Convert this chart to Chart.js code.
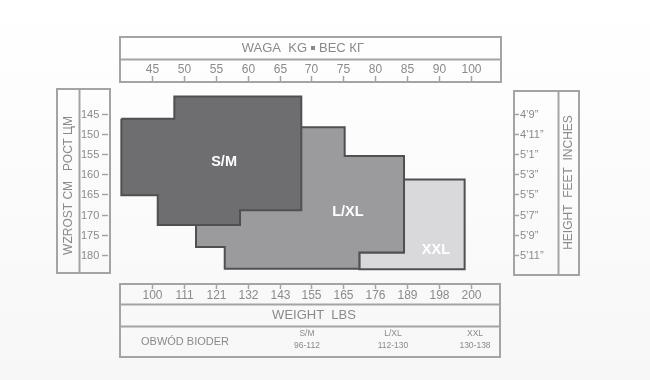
<!DOCTYPE html>
<html>
<head>
<meta charset="utf-8">
<script src="https://cdn.jsdelivr.net/npm/chart.js@4/dist/chart.umd.min.js"></script>
<style>
  html, body { margin: 0; padding: 0; background: #ffffff; }
  #wrap { width: 650px; height: 380px; position: relative; }
</style>
</head>
<body>
<div id="wrap"><canvas id="c" width="650" height="380"></canvas></div>
<script>
// ---- DATA (x = weight position on kg scale, y = height in cm) ----
const kgTickLabels = ['45','50','55','60','65','70','75','80','85','90','100'];
const lbsTickLabels = ['100','111','121','132','143','155','165','176','189','198','200'];
const cmTickLabels = ['145','150','155','160','165','170','175','180'];
const inchTickLabels = ['4’9”','4’11”','5’1”','5’3”','5’5”','5’7”','5’9”','5’11”'];

const sizeNames = ['S/M', 'L/XL', 'XXL'];
const hipRanges = ['96-112', '112-130', '130-138'];

const smX  = [40.2, 48.5, 48.5, 68.4, 68.4, 58.8, 58.8, 45.9, 45.9, 40.2, 40.2];
const smY  = [146.3, 146.3, 140.8, 140.8, 168.9, 168.9, 172.6, 172.6, 165.2, 165.2, 146.3];
const lxlX = [51.9, 68.4, 75.2, 75.2, 84.5, 84.5, 77.5, 77.5, 56.4, 56.4, 51.9, 51.9];
const lxlY = [148.4, 148.4, 148.4, 155.5, 155.5, 179.4, 179.4, 183.4, 183.4, 178.0, 178.0, 148.4];
const xxlX = [84.5, 94.0, 94.0, 77.5, 77.5, 84.5, 84.5];
const xxlY = [161.3, 161.3, 183.5, 183.5, 179.4, 179.4, 161.3];

const labelX = [56.3, 75.7, 89.5];
const labelY = [157.0, 169.4, 178.8];

// ---- build ----
const pts = (xs, ys) => xs.map((x, i) => ({ x: x, y: ys[i] }));
const FONT = '"Liberation Sans", Arial, sans-serif';
const FRAME = '#a4a4a4';
const TXT = '#8a8a8a';

const framePlugin = {
  id: 'frames',
  afterDraw(chart) {
    const ctx = chart.ctx;
    const xs = chart.scales.x, ys = chart.scales.y;
    ctx.save();
    ctx.strokeStyle = FRAME;
    ctx.lineWidth = 2;
    // top box
    ctx.strokeRect(120, 37, 381, 45);
    ctx.beginPath(); ctx.moveTo(120, 59.5); ctx.lineTo(501, 59.5); ctx.stroke();
    // bottom box
    ctx.strokeRect(120, 284, 380, 73);
    ctx.beginPath(); ctx.moveTo(120, 304.5); ctx.lineTo(500, 304.5); ctx.moveTo(120, 326.5); ctx.lineTo(500, 326.5); ctx.stroke();
    // left box
    ctx.strokeRect(57, 89, 53, 184);
    ctx.beginPath(); ctx.moveTo(79.5, 89); ctx.lineTo(79.5, 273); ctx.stroke();
    // right box
    ctx.strokeRect(514, 91, 65, 184);
    ctx.beginPath(); ctx.moveTo(558.5, 91); ctx.lineTo(558.5, 275); ctx.stroke();

    ctx.fillStyle = TXT;
    ctx.textBaseline = 'middle';
    ctx.lineWidth = 1.5;

    // kg ticks (top) & lbs ticks (bottom)
    ctx.textAlign = 'center';
    ctx.font = '12px ' + FONT;
    kgTickLabels.forEach((lab, i) => {
      const px = Math.round(xs.getPixelForValue(45 + 5 * i)) + 0.5;
      ctx.fillText(lab, px, 70);
      ctx.beginPath(); ctx.moveTo(px, 76); ctx.lineTo(px, 81); ctx.stroke();
    });
    lbsTickLabels.forEach((lab, i) => {
      const px = Math.round(xs.getPixelForValue(45 + 5 * i)) + 0.5;
      ctx.fillText(lab, px, 296);
      ctx.beginPath(); ctx.moveTo(px, 285); ctx.lineTo(px, 289); ctx.stroke();
    });

    // cm ticks (left) & inch ticks (right)
    ctx.font = '11px ' + FONT;
    ctx.textAlign = 'left';
    cmTickLabels.forEach((lab, i) => {
      const py = Math.round(ys.getPixelForValue(145 + 5 * i)) + 0.5;
      ctx.fillText(lab, 81, py);
      ctx.beginPath(); ctx.moveTo(102, py); ctx.lineTo(108, py); ctx.stroke();
    });
    inchTickLabels.forEach((lab, i) => {
      const py = Math.round(ys.getPixelForValue(145 + 5 * i)) + 0.5;
      ctx.fillText(lab, 520, py);
      ctx.beginPath(); ctx.moveTo(514, py); ctx.lineTo(519, py); ctx.stroke();
    });

    // titles
    ctx.font = '13px ' + FONT;
    ctx.textAlign = 'right';
    ctx.fillText('WAGA  KG', 307, 48.5);
    ctx.fillRect(311, 46, 4, 4);
    ctx.textAlign = 'left';
    ctx.fillText('ВЕС КГ', 319, 48.5);
    ctx.textAlign = 'center';
    ctx.font = '13px ' + FONT;
    ctx.fillText('WEIGHT  LBS', 314, 315.5);
    ctx.font = '11px ' + FONT;
    ctx.fillText('OBWÓD BIODER', 185, 342);

    // hip sizes
    ctx.font = '8.5px ' + FONT;
    const hipPx = [307, 393, 475];
    sizeNames.forEach((n, i) => {
      ctx.fillText(n, hipPx[i], 334);
      ctx.fillText(hipRanges[i], hipPx[i], 346);
    });

    // vertical titles
    ctx.font = '12px ' + FONT;
    ctx.save();
    ctx.translate(68.5, 185.5);
    ctx.rotate(-Math.PI / 2);
    ctx.fillText('WZROST CM   РОСТ ЦМ', 0, 0);
    ctx.restore();
    ctx.save();
    ctx.translate(568.5, 182.5);
    ctx.rotate(-Math.PI / 2);
    ctx.fillText('HEIGHT  FEET  INCHES', 0, 0);
    ctx.restore();

    // size labels on shapes
    ctx.fillStyle = '#ffffff';
    ctx.font = 'bold 14.5px ' + FONT;
    sizeNames.forEach((n, i) => {
      ctx.fillText(n, xs.getPixelForValue(labelX[i]), ys.getPixelForValue(labelY[i]));
    });
    ctx.restore();
  }
};

const bgPlugin = {
  id: 'bg',
  beforeDraw(chart) {
    const ctx = chart.ctx;
    const g = ctx.createLinearGradient(0, 0, 0, 380);
    g.addColorStop(0, '#ffffff');
    g.addColorStop(1, '#f7f7f7');
    ctx.save();
    ctx.fillStyle = g;
    ctx.fillRect(0, 0, 650, 380);
    ctx.restore();
  }
};

const common = { showLine: true, fill: 'shape', tension: 0, pointRadius: 0, borderWidth: 2, borderColor: '#505052', borderJoinStyle: 'miter' };

new Chart(document.getElementById('c'), {
  type: 'line',
  data: {
    datasets: [
      Object.assign({ label: 'S/M', data: pts(smX, smY), backgroundColor: '#6e6e70' }, common),
      Object.assign({ label: 'L/XL', data: pts(lxlX, lxlY), backgroundColor: '#9b9b9d' }, common),
      Object.assign({ label: 'XXL', data: pts(xxlX, xxlY), backgroundColor: '#d9d9db' }, common)
    ]
  },
  options: {
    responsive: false,
    animation: false,
    events: [],
    layout: { padding: { left: 119, right: 149, top: 89, bottom: 105 } },
    plugins: { legend: { display: false }, tooltip: { enabled: false }, title: { display: false } },
    scales: {
      x: { type: 'linear', display: false, min: 39.83, max: 99.70 },
      y: { type: 'linear', display: false, reverse: true, min: 138.94, max: 184.94 }
    }
  },
  plugins: [bgPlugin, framePlugin]
});
</script>
</body>
</html>
